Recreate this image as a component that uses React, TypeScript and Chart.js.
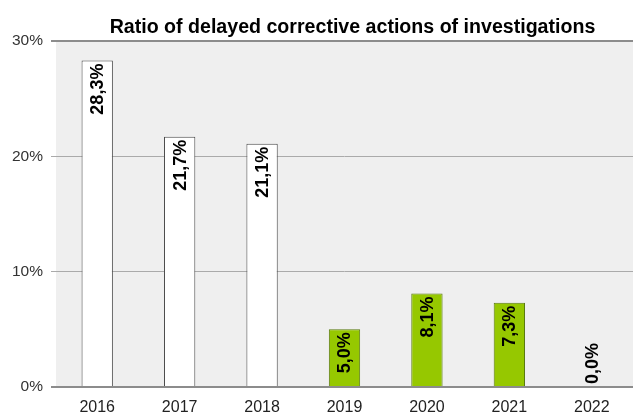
import React, { useEffect, useRef } from "react";
import { Chart, registerables } from "chart.js";

Chart.register(...registerables);

const categories = ["2016", "2017", "2018", "2019", "2020", "2021", "2022"];
const values = [28.3, 21.7, 21.1, 5.0, 8.1, 7.3, 0.0];
const fillColors = ["#ffffff", "#ffffff", "#ffffff", "#96c800", "#96c800", "#96c800", "#ffffff"];
const borderColors = ["#4a4a4a", "#4a4a4a", "#4a4a4a", "#5a7a10", "#5a7a10", "#5a7a10", "#4a4a4a"];
const yTickValues = [0, 10, 20, 30];
const titleText = "Ratio of delayed corrective actions of investigations";

const FONT = "'Liberation Sans', Arial, sans-serif";

const fmt = (v: number) => v.toFixed(1).replace(".", ",") + "%";

const plotBg = {
  id: "plotBg",
  beforeDraw(chart: any) {
    const { ctx, chartArea } = chart;
    ctx.save();
    ctx.fillStyle = "#efefef";
    ctx.fillRect(chartArea.left, chartArea.top, chartArea.right - chartArea.left, chartArea.bottom - chartArea.top);
    ctx.restore();
  },
};

const titlePlugin = {
  id: "customTitle",
  afterDraw(chart: any) {
    const { ctx, chartArea } = chart;
    ctx.save();
    ctx.font = `bold 19.6px ${FONT}`;
    ctx.fillStyle = "#000";
    ctx.textAlign = "center";
    ctx.textBaseline = "alphabetic";
    ctx.fillText(titleText, (chartArea.left + chartArea.right) / 2 + 8, 33);
    ctx.restore();
  },
};

const labelPlugin = {
  id: "barLabels",
  afterDatasetsDraw(chart: any) {
    const { ctx } = chart;
    const meta = chart.getDatasetMeta(0);
    ctx.save();
    ctx.font = `bold 18px ${FONT}`;
    ctx.fillStyle = "#000";
    ctx.textBaseline = "middle";
    meta.data.forEach((bar: any, i: number) => {
      const v = values[i];
      ctx.save();
      ctx.translate(bar.x + 1, bar.y);
      ctx.rotate(-Math.PI / 2);
      if (v > 3) {
        ctx.textAlign = "right";
        ctx.fillText(fmt(v), -3, 0);
      } else {
        ctx.textAlign = "left";
        ctx.fillText(fmt(v), 3, 0);
      }
      ctx.restore();
    });
    ctx.restore();
  },
};

export default function App() {
  const ref = useRef<HTMLCanvasElement | null>(null);
  useEffect(() => {
    document.body.style.margin = "0";
    const canvas = ref.current!;
    const chart = new Chart(canvas, {
      type: "bar",
      data: {
        labels: categories,
        datasets: [
          {
            data: values,
            backgroundColor: fillColors,
            borderColor: borderColors,
            borderWidth: 1,
            categoryPercentage: 1,
            barPercentage: 0.38,
          },
        ],
      },
      options: {
        responsive: false,
        animation: false,
        layout: { padding: { top: 41, left: 0, right: 0, bottom: 0 } },
        plugins: {
          legend: { display: false },
          title: { display: false },
          tooltip: { enabled: false },
        },
        scales: {
          x: {
            grid: { display: false },
            border: { display: false },
            ticks: {
              color: "#222",
              font: { family: FONT, size: 16 },
              padding: 3,
              maxRotation: 0,
            },
            afterFit: (s: any) => {
              s.height = 25;
            },
          },
          y: {
            min: 0,
            max: 30,
            afterBuildTicks: (s: any) => {
              s.ticks = yTickValues.map((v) => ({ value: v }));
            },
            grid: {
              color: (c: any) => (c.tick && (c.tick.value === 0 || c.tick.value === 30) ? "#8c8c8c" : "#aaaaaa"),
              lineWidth: (c: any) => (c.tick && (c.tick.value === 0 || c.tick.value === 30) ? 2 : 1),
              tickLength: 5,
            },
            border: { display: false },
            ticks: {
              color: "#333",
              font: { family: FONT, size: 15.5 },
              padding: 8,
              callback: (v: any) => v + "%",
            },
            afterFit: (s: any) => {
              s.width = 56;
            },
          },
        },
      },
      plugins: [plotBg, titlePlugin, labelPlugin],
    });
    return () => chart.destroy();
  }, []);
  return (
    <div style={{ width: 633, height: 412 }}>
      <canvas ref={ref} width={633} height={412} />
    </div>
  );
}
